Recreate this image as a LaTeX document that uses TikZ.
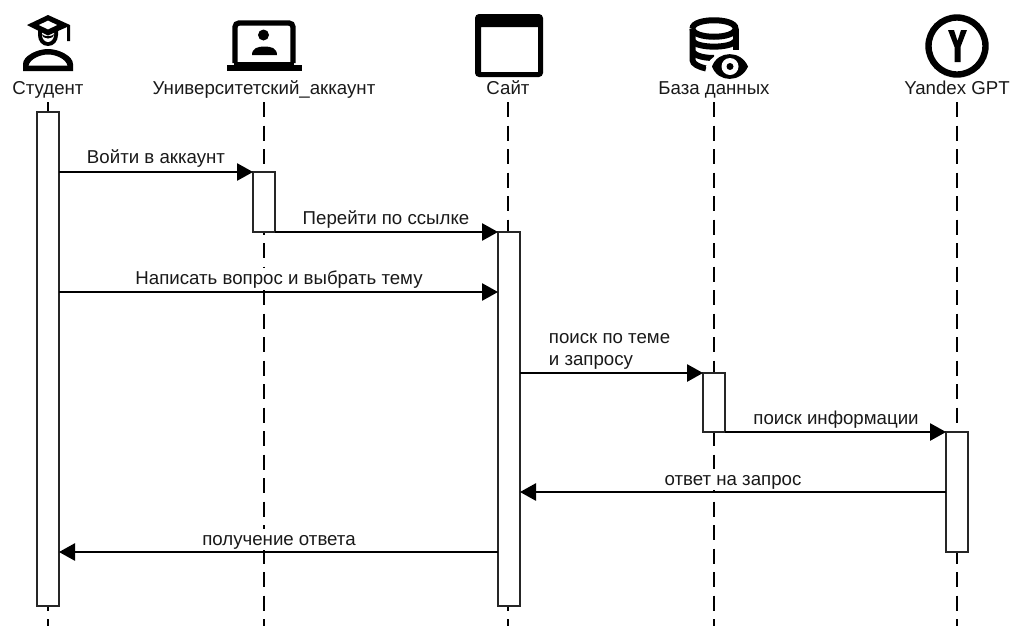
\documentclass[tikz,border=0pt]{standalone}
\usepackage{fontspec}
\setmainfont{Liberation Sans}
\usetikzlibrary{arrows.meta}
\tikzset{
  lifeline/.style={line width=1.5pt,dash pattern=on 11.25pt off 6.375pt},
  activation/.style={draw=black!85,line width=1.1pt,fill=white,minimum width=16.5pt,inner sep=0pt,outer sep=0pt,anchor=north},
  msg/.style={line width=1.2pt,-{Triangle[length=12pt,width=13pt]}},
  title/.style={font=\fontsize{14pt}{16pt}\selectfont,text=black!90,inner sep=0pt,anchor=base},
  label/.style={font=\fontsize{14pt}{16pt}\selectfont,text=black!90,fill=white,inner sep=0.5pt,text height=11.5pt,text depth=3pt,anchor=base}
}
\begin{document}
\begin{tikzpicture}[x=0.75pt,y=-0.75pt]
\useasboundingbox (0,0) rectangle (1020,626);
% lifelines
\coordinate (e1) at (48,626); \coordinate (e2) at (264,626); \coordinate (e3) at (508,626); \coordinate (e4) at (714,626); \coordinate (e5) at (957,626);
\node[title] (t1) at (48,94) {Студент};
\node[title] (t2) at (264,94) {Университетский\_аккаунт};
\node[title] (t3) at (508,94) {Сайт};
\node[title] (t4) at (714,94) {База данных};
\node[title] (t5) at (957,94) {Yandex GPT};
\draw[lifeline] (t1.south |- 0,102) -- (e1);
\draw[lifeline] (t2.south |- 0,102) -- (e2);
\draw[lifeline] (t3.south |- 0,102) -- (e3);
\draw[lifeline] (t4.south |- 0,102) -- (e4);
\draw[lifeline] (t5.south |- 0,102) -- (e5);
% activations
\node[activation,minimum height=370.5pt] (a1) at (48,112) {};
\node[activation,minimum height=45pt] (a2) at (264,172) {};
\node[activation,minimum height=280.5pt] (a3) at (509,232) {};
\node[activation,minimum height=44.25pt] (a4) at (714,373) {};
\node[activation,minimum height=90pt] (a5) at (957,432) {};
% messages
\draw[msg] (a1.east |- 0,172) -- (a2.west |- 0,172);
\draw[msg] (a2.east |- 0,232) -- (a3.west |- 0,232);
\draw[msg] (a1.east |- 0,292) -- (a3.west |- 0,292);
\draw[msg] (a3.east |- 0,373) -- (a4.west |- 0,373);
\draw[msg] (a4.east |- 0,432) -- (a5.west |- 0,432);
\draw[msg] (a5.west |- 0,492) -- (a3.east |- 0,492);
\draw[msg] (a3.west |- 0,552) -- (a1.east |- 0,552);
\node[label] (m1) at (156,163.3) {Войти в аккаунт};
\node[label] (m2) at (386,224.3) {Перейти по ссылке};
\node[label] (m3) at (279,284.3) {Написать вопрос и выбрать тему};
\node[label,anchor=base west] (m4a) at (548,343) {поиск по теме};
\node[label,anchor=base west,fill=none] (m4b) at (548,365) {и запросу};
\node[label] (m5) at (836,424.3) {поиск информации};
\node[label] (m6) at (733,485.3) {ответ на запрос};
\node[label] (m7) at (279,545.3) {получение ответа};
% student icon
\fill (38,30) -- (58,30) -- (58,35) .. controls (58,41) and (54,46) .. (48,46) .. controls (42,46) and (38,41) .. (38,35) -- cycle;
\fill[white] (42,29) -- (54,29) -- (54,35) .. controls (54,39) and (51,42) .. (48,42) .. controls (45,42) and (42,39) .. (42,35) -- cycle;
\fill (41.5,34) .. controls (45,37) and (51,37) .. (54.5,34) .. controls (53.5,40) and (42.5,40) .. (41.5,34) -- cycle;
\fill[even odd rule] (48,15) -- (70,25) -- (70,41) -- (67,41) -- (67,27) -- (48,35.5) -- (27,25) -- cycle
  (48,20.5) -- (38.5,25) -- (48,29.5) -- (57.5,25) -- cycle;
\fill[even odd rule] (23,71) -- (23,64) .. controls (23,56) and (37,49) .. (48,49) .. controls (59,49) and (73,56) .. (73,64) -- (73,71) -- cycle
 (28.5,65.5) -- (67.5,65.5) .. controls (66,59) and (56,54.5) .. (48,54.5) .. controls (40,54.5) and (30,59) .. (28.5,65.5) -- cycle;
% laptop icon
\draw[line width=4pt,rounded corners=3pt] (235,63) -- (235,23) -- (293,23) -- (293,63);
\fill (227,64.5) rectangle (302,71);
\fill (234,62) rectangle (294,65);
\fill (263.5,35) circle (5.5);
\fill (252,55) .. controls (252,48) and (258,46.5) .. (264.5,46.5) .. controls (271,46.5) and (277,48) .. (277,55) -- cycle;
% site icon
\fill[even odd rule,rounded corners=3pt] (475,14) rectangle (543,77)
  [sharp corners] (481,27) rectangle (538,72);
% database icon
\draw[line width=4.5pt] (692.5,28.5) .. controls (692.5,17.5) and (735.5,17.5) .. (735.5,28.5) .. controls (735.5,39.5) and (692.5,39.5) .. (692.5,28.5);
\draw[line width=4.5pt] (692.5,28.5) -- (692.5,60) .. controls (692.5,64) and (699,67) .. (706,68.5);
\draw[line width=4.5pt] (735.5,28.5) -- (735.5,50);
\draw[line width=4.5pt] (692.5,41) .. controls (697,48.5) and (731,48.5) .. (735.5,41);
\draw[line width=4.5pt] (692.5,52) .. controls (696,56) and (704,58) .. (714,58);
\fill[white] (706,66.5) .. controls (715,47) and (745,47) .. (752,66.5) .. controls (745,86) and (715,86) .. (706,66.5) -- cycle;
\fill (712,66.5) .. controls (718,50) and (741,50) .. (748,66.5) .. controls (741,83) and (718,83) .. (712,66.5) -- cycle;
\fill[white] (730,66.5) circle (8.5);
\fill (730,66.5) circle (3.5);
% yandex icon
\draw[line width=4.8pt] (957,46) circle (28.5);
\fill (948,30) -- (954,30) -- (957.5,41) -- (961,30) -- (967,30) -- (960.5,47) -- (960.5,62) -- (954.5,62) -- (954.5,47) -- cycle;
\end{tikzpicture}
\end{document}
